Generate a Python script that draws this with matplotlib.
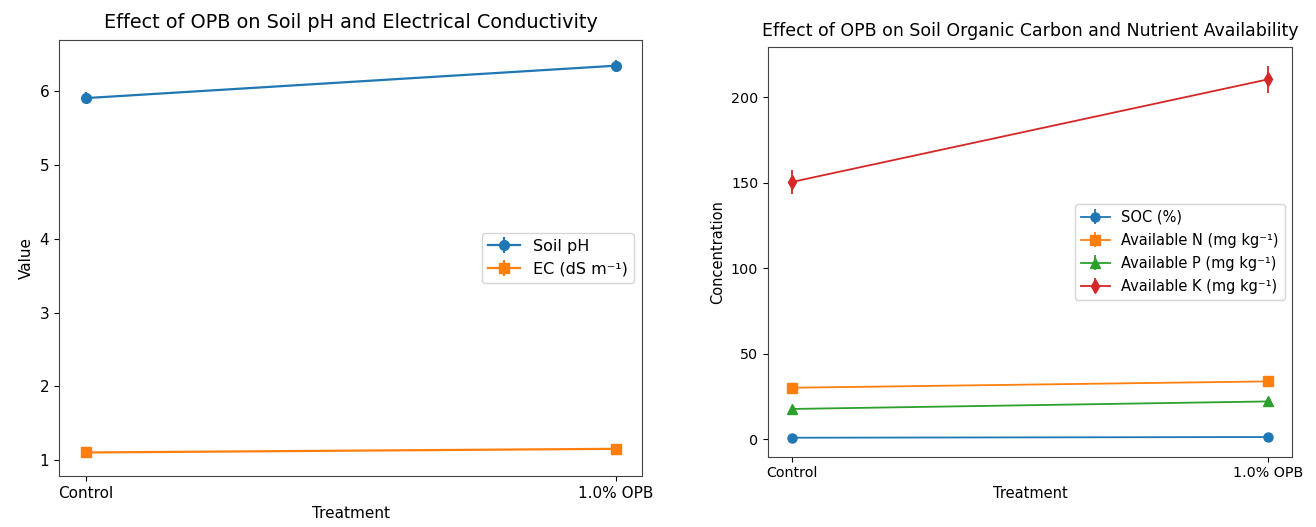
import numpy as np
import matplotlib
matplotlib.use("Agg")
import matplotlib.pyplot as plt

# Data
treatments = ["Control", "1.0% OPB"]

soil_ph = [5.91, 6.35]
soil_ph_err = [0.08, 0.08]
ec = [1.10, 1.15]
ec_err = [0.05, 0.05]

soc = [1.0, 1.4]
soc_err = [0.1, 0.1]
avail_n = [30.2, 33.9]
avail_n_err = [1.5, 1.5]
avail_p = [17.8, 22.2]
avail_p_err = [1.2, 1.2]
avail_k = [150.4, 210.4]
avail_k_err = [7.0, 8.0]

x = np.arange(len(treatments))
W, H = 1316, 527

fig = plt.figure(figsize=(W / 100, H / 100), dpi=100)

# Left panel: pH and EC
ax1 = fig.add_axes([59 / W, (H - 476) / H, 583 / W, 436 / H])
ax1.errorbar(x, soil_ph, yerr=soil_ph_err, marker='o', color='#1f77b4',
             lw=1.6, ms=7, label='Soil pH')
ax1.errorbar(x, ec, yerr=ec_err, marker='s', color='#ff7f0e',
             lw=1.6, ms=7, label='EC (dS m⁻¹)')
ax1.set_xticks(x)
ax1.set_xticklabels(treatments, fontsize=11)
ax1.tick_params(axis='y', labelsize=11)
ax1.set_title('Effect of OPB on Soil pH and Electrical Conductivity', fontsize=13.9, pad=9)
ax1.set_xlabel('Treatment', fontsize=11)
ax1.set_ylabel('Value', fontsize=11)
ax1.legend(loc='center right', fontsize=11.5)

# Right panel: SOC and nutrients
ax2 = fig.add_axes([768 / W, (H - 456.5) / H, 524 / W, 409.5 / H])
ax2.errorbar(x, soc, yerr=soc_err, marker='o', color='#1f77b4', lw=1.3, ms=6.5, label='SOC (%)')
ax2.errorbar(x, avail_n, yerr=avail_n_err, marker='s', color='#ff7f0e', lw=1.3, ms=6.5,
             label='Available N (mg kg⁻¹)')
ax2.errorbar(x, avail_p, yerr=avail_p_err, marker='^', color='#2ca02c', lw=1.3, ms=6.5,
             label='Available P (mg kg⁻¹)')
ax2.errorbar(x, avail_k, yerr=avail_k_err, marker='d', color='#d62728', lw=1.3, ms=7.5,
             label='Available K (mg kg⁻¹)')
ax2.set_xticks(x)
ax2.set_xticklabels(treatments, fontsize=10.3)
ax2.tick_params(axis='y', labelsize=10.3)
ax2.set_title('Effect of OPB on Soil Organic Carbon and Nutrient Availability', fontsize=12.5, pad=8)
ax2.set_xlabel('Treatment', fontsize=10.5)
ax2.set_ylabel('Concentration', fontsize=10.5)
ax2.legend(loc='center right', fontsize=10.5, labelspacing=0.55)

for ax in (ax1, ax2):
    for s in ax.spines.values():
        s.set_color('#444444')

fig.savefig('out.png', dpi=100, facecolor='white')
